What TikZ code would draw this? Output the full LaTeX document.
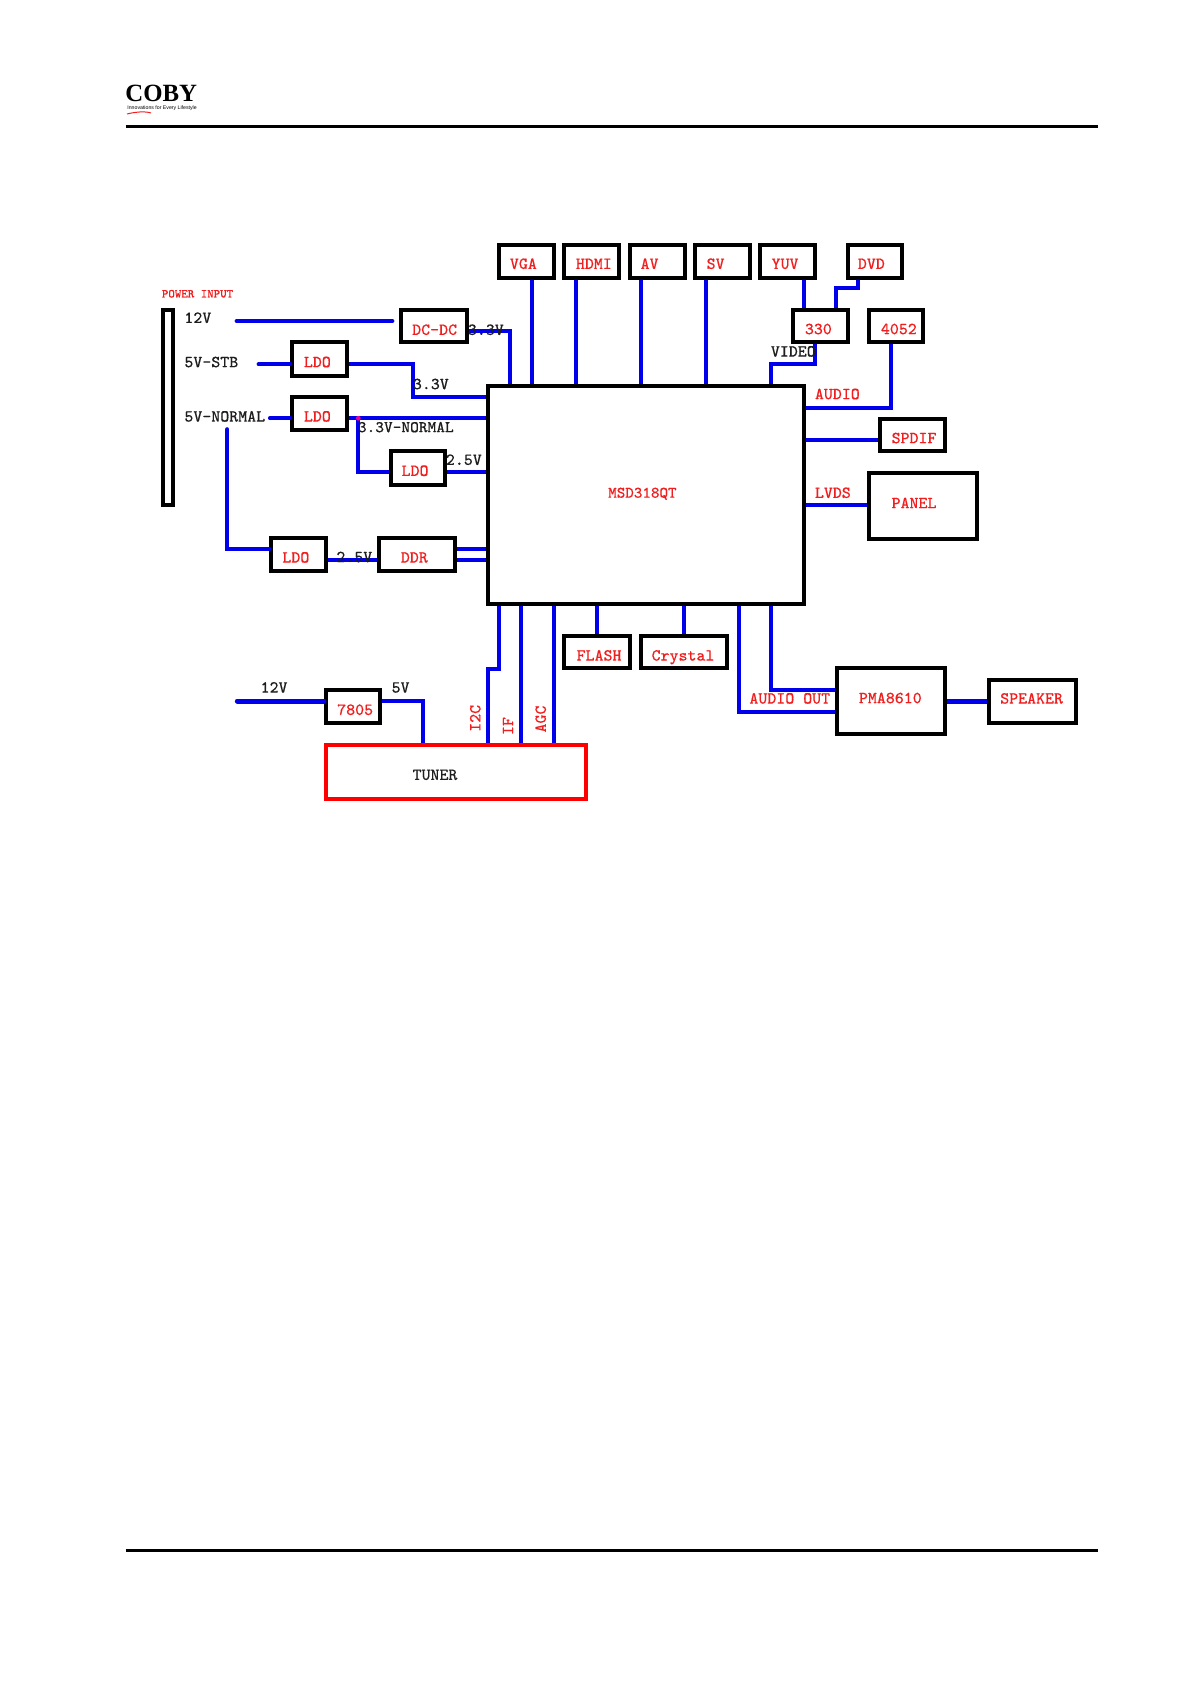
\documentclass[tikz,border=0pt]{standalone}
\usepackage{fontspec}
\setmainfont{Liberation Serif}
\newfontfamily\tagfont{Liberation Sans}
\setmonofont[FakeBold=0.3]{Latin Modern Mono}
\definecolor{wireblue}{RGB}{0,0,235}
\definecolor{labred}{RGB}{240,30,30}
\definecolor{labblack}{RGB}{30,30,30}
\tikzset{
  boxbase/.style={draw=black,line width=2pt,fill=white,inner sep=0pt,outer sep=auto,rectangle},
  wire/.style={draw=wireblue,line width=2.1pt,line join=miter},
  wirethick/.style={draw=wireblue,line width=2.5pt},
  rlab/.style={text=labred,font=\ttfamily\fontsize{8.45}{10}\selectfont,inner sep=0pt,anchor=base west},
  blab/.style={rlab,text=labblack},
  rule/.style={draw=black,line width=1.5pt},
}
% \bx{name}{x0}{y0}{x1}{y1}{extra}: outer extents in reference pixels
\newcommand{\bx}[6]{%
  \pgfmathsetmacro{\bxcx}{(#2+#4)/2}%
  \pgfmathsetmacro{\bxcy}{(#3+#5)/2}%
  \pgfmathsetmacro{\bxw}{(#4-#2)/2-2}%
  \pgfmathsetmacro{\bxh}{(#5-#3)/2-2}%
  \node[boxbase,minimum width=\bxw pt,minimum height=\bxh pt,#6] (#1) at (\bxcx,\bxcy) {};%
}
\newcommand{\rl}[4]{\node[rlab] (#1) at (#2,#3+4.9) {#4};}
\newcommand{\bl}[4]{\node[blab] (#1) at (#2,#3+4.9) {#4};}
\begin{document}
\begin{tikzpicture}[x=0.5pt,y=-0.5pt]
\useasboundingbox (0,0) rectangle (1190,1684);
% header and footer
\coordinate (hl) at (125.5,126.5);
\coordinate (hr) at (1098,126.5);
\coordinate (fl) at (125.5,1550);
\coordinate (fr) at (1098,1550);
\draw[rule] (hl) -- (hr);
\draw[rule] (fl) -- (fr);
\node[inner sep=0pt,anchor=base west,font=\fontsize{12.4}{14}\selectfont\bfseries] (coby) at (125,102) {COBY};
\node[inner sep=0pt,anchor=base west,font=\tagfont\fontsize{2.6}{3}\selectfont] (tag) at (127,110) {Innovations for Every Lifestyle};
\coordinate (swa) at (127,114);
\coordinate (swb) at (151,113);
\draw[labred,line width=0.5pt] (swa) .. controls (135,112) and (145,111) .. (swb);
% boxes
\bx{pwr}{160.7}{307.7}{175}{507}{}
\bx{dcdc}{399.3}{307.7}{469.3}{344}{}
\bx{ldoa}{290.3}{340.3}{349}{377.7}{}
\bx{ldob}{290.3}{395}{349}{432.3}{}
\bx{ldoc}{388.7}{449.3}{447}{486.7}{}
\bx{ldod}{269.3}{536}{328}{573.3}{}
\bx{ddr}{377.3}{536}{457.3}{573.3}{}
\bx{main}{486}{384}{806}{605.5}{}
\bx{vga}{497.3}{243.3}{556}{279.7}{}
\bx{hdmi}{562.3}{243.3}{621}{279.7}{}
\bx{av}{628}{243.3}{686.7}{279.7}{}
\bx{sv}{693}{243.3}{751.7}{279.7}{}
\bx{yuv}{758}{243.3}{816.7}{279.7}{}
\bx{dvd}{845.7}{243.3}{904.3}{279.7}{}
\bx{tsan}{791.3}{308}{850}{344.3}{}
\bx{tfz}{866.7}{308}{925.3}{344.3}{}
\bx{spdif}{878.3}{416.7}{947.3}{453}{}
\bx{panel}{866.7}{471}{979.3}{540.7}{}
\bx{flash}{562.3}{634}{632.3}{670.3}{}
\bx{crystal}{639}{634}{729.3}{670.3}{}
\bx{pma}{834.7}{666.3}{947}{736}{}
\bx{spk}{987}{678}{1078}{724.7}{}
\bx{reg}{324}{688.3}{382.3}{724.7}{}
\bx{tuner}{324}{742.7}{588}{801}{draw=red}
% free ends of the input stubs
\coordinate (inA) at (236.7,321);
\coordinate (inAe) at (392.3,321);
\coordinate (inB) at (258.7,364.3);
\coordinate (inC) at (270,418.3);
\coordinate (inD) at (227.3,429.3);
\coordinate (inE) at (237.3,701);
% connectors
\draw[wire,line cap=round] (inA) -- (inAe);
\draw[wire] (dcdc.east |- 0,331) -- (510,331) -- (510,0 |- main.north);
\draw[wire,line cap=round] (inB) -- (ldoa.west |- inB);
\draw[wire] (ldoa.east |- inB) -- (412.7,364.3) -- (412.7,396.7) -- (main.west |- 0,396.7);
\draw[wire,line cap=round] (inC) -- (ldob.west |- inC);
\draw[wire] (ldob.east |- inC) -- (main.west |- inC);
\coordinate (jn) at (358.3,418.3);
\draw[wire] (jn) -- (358.3,472.3) -- (ldoc.west |- 0,472.3);
\fill[magenta] (jn) circle (2.4);
\draw[wire] (ldoc.east |- 0,472.3) -- (main.west |- 0,472.3);
\draw[wire,line cap=round] (inD) -- (227.3,549) -- (ldod.west |- 0,549);
\draw[wire] (ldod.east |- 0,559.7) -- (ddr.west |- 0,559.7);
\draw[wire] (ddr.east |- 0,549) -- (main.west |- 0,549);
\draw[wire] (ddr.east |- 0,559.7) -- (main.west |- 0,559.7);
\draw[wire] (531.7,0 |- vga.south) -- (531.7,0 |- main.north);
\draw[wire] (575.7,0 |- hdmi.south) -- (575.7,0 |- main.north);
\draw[wire] (640.7,0 |- av.south) -- (640.7,0 |- main.north);
\draw[wire] (706,0 |- sv.south) -- (706,0 |- main.north);
\draw[wire] (803.7,0 |- yuv.south) -- (803.7,0 |- tsan.north);
\draw[wire] (858.3,0 |- dvd.south) -- (858.3,288.3) -- (836,288.3) -- (836,0 |- tsan.north);
\draw[wire] (814.7,0 |- tsan.south) -- (814.7,364.3) -- (771,364.3) -- (771,0 |- main.north);
\draw[wire] (890.7,0 |- tfz.south) -- (890.7,408) -- (main.east |- 0,408);
\draw[wire] (main.east |- 0,440.3) -- (spdif.west |- 0,440.3);
\draw[wire] (main.east |- 0,505.3) -- (panel.west |- 0,505.3);
\draw[wire] (499.3,0 |- main.south) -- (499.3,668.7) -- (488.3,668.7) -- (488.3,0 |- tuner.north);
\draw[wire] (521.3,0 |- main.south) -- (521.3,0 |- tuner.north);
\draw[wire] (553.7,0 |- main.south) -- (553.7,0 |- tuner.north);
\draw[wire] (597.3,0 |- main.south) -- (597.3,0 |- flash.north);
\draw[wire] (684.3,0 |- main.south) -- (684.3,0 |- crystal.north);
\draw[wire] (739,0 |- main.south) -- (739,712) -- (pma.west |- 0,712);
\draw[wire] (771.3,0 |- main.south) -- (771.3,690) -- (pma.west |- 0,690);
\draw[wirethick] (pma.east |- 0,701) -- (spk.west |- 0,701);
\draw[wirethick,line cap=round] (inE) -- (reg.west |- inE);
\draw[wire] (reg.east |- inE) -- (423,701) -- (423,0 |- tuner.north);
% labels
\node[rlab,font=\ttfamily\fontsize{6.1}{8}\selectfont] (tpower) at (161.5,297.5) {POWER INPUT};
\bl{tA}{184}{318}{12V}
\bl{tB}{184}{362.3}{5V-STB}
\bl{tC}{184}{416.7}{5V-NORMAL}
\rl{tla}{303.5}{362.3}{LDO}
\rl{tlb}{303.5}{416.7}{LDO}
\rl{tlc}{401.2}{471}{LDO}
\rl{tld}{282}{557.7}{LDO}
\rl{tddr}{400.5}{557.7}{DDR}
\rl{tdc}{411.8}{330}{DC-DC}
\bl{tv1}{467.5}{330}{3.3V}
\bl{tv2}{412.5}{384.3}{3.3V}
\node[blab,font=\ttfamily\fontsize{8.2}{10}\selectfont] (tv3) at (357.5,432.2) {3.3V-NORMAL};
\bl{tv4}{445.5}{460}{2.5V}
\bl{tv5}{336}{557.3}{2.5V}
\rl{tvga}{509.5}{264}{VGA}
\rl{thd}{575.5}{264}{HDMI}
\rl{tav}{640.2}{264}{AV}
\rl{tsv}{706.2}{264}{SV}
\rl{tyuv}{771.2}{264}{YUV}
\rl{tdvd}{857.5}{264}{DVD}
\rl{t330}{804.5}{329.3}{330}
\rl{t4052}{880.5}{329.3}{4052}
\bl{tvid}{770.5}{351.7}{VIDEO}
\rl{taud}{814.5}{394.3}{AUDIO}
\rl{tspd}{891.2}{438.3}{SPDIF}
\rl{tlvds}{814.5}{493}{LVDS}
\rl{tpan}{891.2}{503.3}{PANEL}
\node[rlab,font=\ttfamily\fontsize{8.05}{10}\selectfont] (tmsd) at (607.8,497.7) {MSD318QT};
\rl{tfl}{576.2}{655.7}{FLASH}
\rl{tcr}{651.2}{655.7}{Crystal}
\rl{tpma}{858.5}{698.3}{PMA8610}
\rl{tspk}{999.8}{698.7}{SPEAKER}
\rl{taudo}{749}{698.7}{AUDIO OUT}
\rl{t78}{336.8}{710}{7805}
\bl{t12}{260.2}{687.7}{12V}
\bl{t5}{391.2}{687.7}{5V}
\bl{ttun}{412.2}{775}{TUNER}
\node[rlab,anchor=center,rotate=90] (ti2c) at (475.3,718.3) {I2C};
\node[rlab,anchor=center,rotate=90] (tif) at (508,726) {IF};
\node[rlab,anchor=center,rotate=90] (tagc) at (540.7,719) {AGC};
\end{tikzpicture}
\end{document}
